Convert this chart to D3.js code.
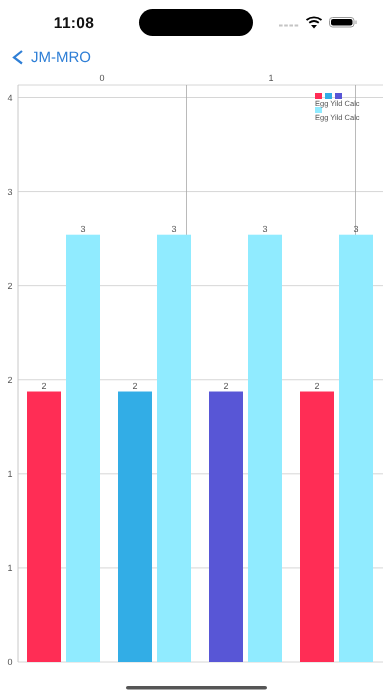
<!DOCTYPE html>
<html>
<head>
<meta charset="utf-8">
<style>
  html, body { margin: 0; padding: 0; background: #fff; overflow: hidden; }
  svg { display: block; font-family: "Liberation Sans", Arial, sans-serif; text-rendering: geometricPrecision; filter: blur(0.35px); }
</style>
<script src="https://cdn.jsdelivr.net/npm/d3@7/dist/d3.min.js"></script>
</head>
<body>
<script>
// data
const groups = ['a', 'b', 'c', 'd'];
const series1 = [1.725, 1.725, 1.725, 1.725];
const series2 = [2.725, 2.725, 2.725, 2.725];
const series1Colors = ['#ff2d55', '#32ade6', '#5856d6', '#ff2d55'];
const series2Color = '#90ebff';
const yTicks = [0, 0.6, 1.2, 1.8, 2.4, 3, 3.6];
const topTicks = [0, 1];
const legendColors = ['#ff2d55', '#32ade6', '#5856d6'];
const legendName = 'Egg Yild Calc';

const dim = { width: 392, height: 696 };
const svg = d3.select('body').append('svg').attr('width', dim.width).attr('height', dim.height);

const plot = { left: 18, right: 383, top: 85, bottom: 662 };

const y = d3.scaleLinear().domain([0, 3.6]).range([plot.bottom, 97.5]);
const x = d3.scaleBand().domain(groups).range([18, 382]);
const xTop = d3.scaleLinear().domain([0, 1]).range([102, 271]);

// grid
const grid = svg.append('g');
grid.selectAll('.h').data(yTicks).enter().append('line')
  .attr('x1', plot.left).attr('x2', plot.right)
  .attr('y1', d => y(d)).attr('y2', d => y(d))
  .attr('stroke', '#d6d6d6').attr('stroke-width', 1);
grid.append('line').attr('x1', plot.left).attr('x2', plot.right)
  .attr('y1', plot.top).attr('y2', plot.top).attr('stroke', '#d6d6d6');
grid.append('line').attr('x1', plot.left).attr('x2', plot.left)
  .attr('y1', plot.top).attr('y2', plot.bottom).attr('stroke', '#c8c8c8');
grid.selectAll('.v').data(topTicks).enter().append('line')
  .attr('x1', d => xTop(d) + 84.5).attr('x2', d => xTop(d) + 84.5)
  .attr('y1', plot.top).attr('y2', plot.bottom)
  .attr('stroke', '#a8a8a8').attr('stroke-width', 0.8);

// axes
svg.append('g').selectAll('text').data(yTicks).enter().append('text')
  .attr('x', 10).attr('y', d => y(d) + 3)
  .attr('text-anchor', 'middle').attr('font-size', 9).attr('fill', '#555')
  .text(d => Math.round(d));
svg.append('g').selectAll('text').data(topTicks).enter().append('text')
  .attr('x', d => xTop(d)).attr('y', 81)
  .attr('text-anchor', 'middle').attr('font-size', 9).attr('fill', '#555')
  .text(d => d);

// bars
const barW = 34;
const bars = svg.append('g');
bars.selectAll('.s1').data(series1).enter().append('rect')
  .attr('x', (d, i) => x(groups[i]) + 9)
  .attr('width', barW)
  .attr('y', d => y(d))
  .attr('height', d => y(0) - y(d))
  .attr('fill', (d, i) => series1Colors[i]);
bars.selectAll('.s2').data(series2).enter().append('rect')
  .attr('x', (d, i) => x(groups[i]) + 48)
  .attr('width', barW)
  .attr('y', d => y(d))
  .attr('height', d => y(0) - y(d))
  .attr('fill', series2Color);

// bar labels
const labels = svg.append('g').attr('font-size', 9).attr('fill', '#555').attr('text-anchor', 'middle');
labels.selectAll('.l1').data(series1).enter().append('text')
  .attr('x', (d, i) => x(groups[i]) + 9 + barW / 2)
  .attr('y', d => y(d) - 3)
  .text(d => Math.round(d));
labels.selectAll('.l2').data(series2).enter().append('text')
  .attr('x', (d, i) => x(groups[i]) + 48 + barW / 2)
  .attr('y', d => y(d) - 3)
  .text(d => Math.round(d));

// legend
const legend = svg.append('g');
legend.selectAll('rect').data(legendColors).enter().append('rect')
  .attr('x', (d, i) => 315 + i * 10).attr('y', 93)
  .attr('width', 7).attr('height', 6).attr('fill', d => d);
legend.append('rect').attr('x', 315).attr('y', 107)
  .attr('width', 7).attr('height', 6).attr('fill', series2Color);
legend.selectAll('text').data([106, 120]).enter().append('text')
  .attr('x', 315).attr('y', d => d)
  .attr('font-size', 7.5).attr('fill', '#555').text(legendName);

// phone status bar
svg.append('text').attr('x', 74).attr('y', 28).attr('text-anchor', 'middle')
  .attr('font-size', 15.5).attr('font-weight', 700).attr('letter-spacing', 0.3)
  .attr('fill', '#111').text('11:08');
svg.append('rect').attr('x', 139).attr('y', 9).attr('width', 114).attr('height', 27).attr('rx', 13.5).attr('fill', '#000');
svg.selectAll('.sig').data([0, 1, 2, 3]).enter().append('rect')
  .attr('x', d => 279 + d * 5.2).attr('y', 24.5).attr('width', 3.6).attr('height', 2)
  .attr('fill', '#c4c4c4');
// wifi
const wifi = svg.append('g').attr('fill', 'none').attr('stroke', '#000').attr('stroke-width', 1.9);
wifi.append('path').attr('d', 'M306.5 20 A12 12 0 0 1 321.5 20');
wifi.append('path').attr('d', 'M309.2 22.8 A8 8 0 0 1 318.8 22.8');
svg.append('path').attr('d', 'M311 25 L317 25 L314 28.5 Z').attr('fill', '#000');
// battery
svg.append('rect').attr('x', 329.5).attr('y', 17.5).attr('width', 24.5).attr('height', 9.5).attr('rx', 3)
  .attr('fill', 'none').attr('stroke', '#999').attr('stroke-width', 1);
svg.append('rect').attr('x', 331).attr('y', 19).attr('width', 21.5).attr('height', 6.5).attr('rx', 2).attr('fill', '#000');
svg.append('rect').attr('x', 355.5).attr('y', 20.5).attr('width', 1).attr('height', 3.5).attr('fill', '#999');

// nav bar
svg.append('path').attr('d', 'M22 51 L14 57.5 L22 63.5').attr('fill', 'none')
  .attr('stroke', '#2f7fd6').attr('stroke-width', 2.2);
svg.append('text').attr('x', 31).attr('y', 62).attr('font-size', 15)
  .attr('fill', '#2f7fd6').text('JM-MRO');

// home indicator
svg.append('rect').attr('x', 126).attr('y', 686).attr('width', 141).attr('height', 3.5).attr('rx', 1.75).attr('fill', '#555');
</script>
</body>
</html>
